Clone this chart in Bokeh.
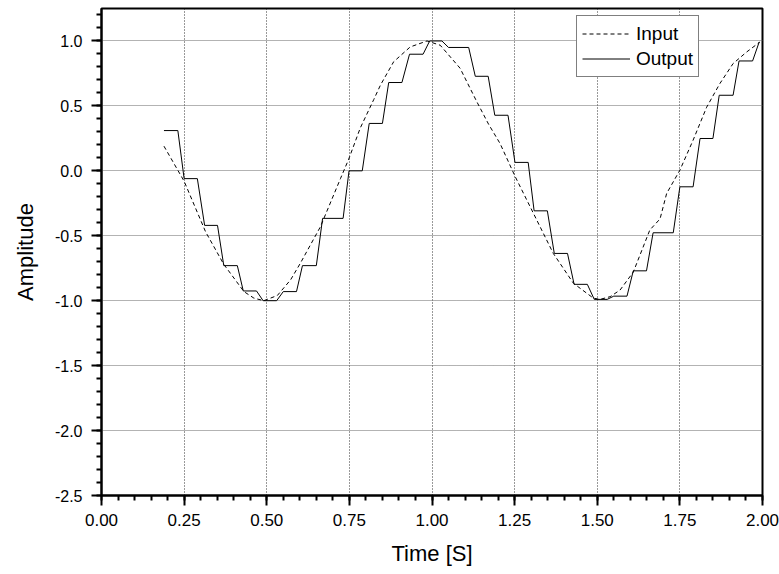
from bokeh.plotting import figure
from bokeh.models import (Range1d, FixedTicker, NumeralTickFormatter, Legend,
                          LegendItem)
from bokeh.embed import file_html
from bokeh.resources import INLINE

# ---- Input signal (dashed) vertices ----
input_t = [0.189, 0.25, 0.315, 0.37, 0.431, 0.461, 0.491, 0.532, 0.572, 0.602,
           0.6625, 0.723, 0.748, 0.783, 0.824, 0.844, 0.884, 0.934, 0.985, 1.025,
           1.085, 1.136, 1.171, 1.206, 1.252, 1.307, 1.367, 1.428, 1.488, 1.508,
           1.539, 1.569, 1.609, 1.659, 1.69, 1.71, 1.75, 1.79, 1.831, 1.871,
           1.911, 1.952, 1.992]
input_y = [0.19, -0.08, -0.47, -0.72, -0.93, -0.98, -1.0, -0.96, -0.84, -0.71,
           -0.43, -0.06, 0.09, 0.33, 0.55, 0.66, 0.84, 0.954, 1.0, 0.967,
           0.79, 0.53, 0.36, 0.21, -0.046, -0.328, -0.636, -0.866, -0.98, -0.99,
           -0.969, -0.918, -0.78, -0.456, -0.37, -0.174, 0.005, 0.236, 0.49, 0.672,
           0.826, 0.915, 0.992]

# ---- Output signal (sample & hold): hold start, hold end, held value ----
out_start = [0.189, 0.250, 0.312, 0.370, 0.429, 0.489, 0.550, 0.608, 0.669, 0.749,
             0.810, 0.869, 0.932, 0.993, 1.050, 1.131, 1.190, 1.251, 1.309, 1.370,
             1.430, 1.491, 1.550, 1.609, 1.669, 1.750, 1.811, 1.869, 1.929, 1.990]
out_end = [0.231, 0.290, 0.351, 0.411, 0.469, 0.530, 0.590, 0.650, 0.731, 0.789,
           0.850, 0.909, 0.973, 1.030, 1.111, 1.170, 1.230, 1.291, 1.349, 1.410,
           1.470, 1.530, 1.590, 1.649, 1.730, 1.790, 1.850, 1.911, 1.970, 1.990]
out_val = [0.31, -0.06, -0.42, -0.73, -0.925, -1.0, -0.93, -0.73, -0.366, 0.0,
           0.365, 0.68, 0.898, 1.0, 0.95, 0.728, 0.428, 0.065, -0.308, -0.636,
           -0.874, -0.99, -0.965, -0.77, -0.477, -0.123, 0.249, 0.582, 0.846, 0.992]

x_ticks = [0.0, 0.25, 0.5, 0.75, 1.0, 1.25, 1.5, 1.75, 2.0]
y_ticks = [-2.5, -2.0, -1.5, -1.0, -0.5, 0.0, 0.5, 1.0]

# build step path
ox, oy = [], []
for s, e, v in zip(out_start, out_end, out_val):
    ox.append(s); oy.append(v)
    if e != s:
        ox.append(e); oy.append(v)

FONT = "Liberation Sans"

p = figure(width=779, height=574, x_range=Range1d(0, 2), y_range=Range1d(-2.5, 1.25),
           output_backend="svg", toolbar_location=None,
           min_border_left=101, min_border_right=17, min_border_top=8,
           min_border_bottom=79)
p.background_fill_color = "white"
p.border_fill_color = "white"
p.outline_line_color = "black"
p.outline_line_width = 2

r_in = p.line(input_t, input_y, line_color="black", line_width=1, line_dash="4 3")
r_out = p.line(ox, oy, line_color="black", line_width=1)

xminor = [round(i * 0.05, 2) for i in range(0, 41)]
yminor = [round(-2.5 + i * 0.1, 2) for i in range(0, 38)]

xa = p.xaxis[0]
ya = p.yaxis[0]
xa.ticker = FixedTicker(ticks=x_ticks, minor_ticks=xminor)
ya.ticker = FixedTicker(ticks=y_ticks, minor_ticks=yminor)
xa.formatter = NumeralTickFormatter(format="0.00")
ya.formatter = NumeralTickFormatter(format="0.0")

for ax in (xa, ya):
    ax.axis_line_width = 2
    ax.axis_line_color = "black"
    ax.major_tick_out = 10
    ax.major_tick_in = 0
    ax.minor_tick_out = 5
    ax.minor_tick_in = 0
    ax.major_tick_line_width = 2
    ax.minor_tick_line_width = 2
    ax.major_tick_line_color = "black"
    ax.minor_tick_line_color = "black"
    ax.major_label_text_font = FONT
    ax.major_label_text_color = "black"
    ax.axis_label_text_font = FONT
    ax.axis_label_text_font_style = "normal"
    ax.axis_label_text_color = "black"

xa.major_label_text_font_size = "17px"
ya.major_label_text_font_size = "16px"
xa.major_label_standoff = 8
ya.major_label_standoff = 9
xa.axis_label = "Time [S]"
ya.axis_label = "Amplitude"
xa.axis_label_text_font_size = "22px"
ya.axis_label_text_font_size = "22px"
xa.axis_label_standoff = 12
ya.axis_label_standoff = 14

p.xgrid.grid_line_color = "#000000"
p.xgrid.grid_line_dash = "1 2"
p.xgrid.grid_line_width = 1
p.xgrid.grid_line_alpha = 0.8
p.ygrid.grid_line_color = "#666666"
p.ygrid.grid_line_dash = "1 1"
p.ygrid.grid_line_width = 1

legend = Legend(items=[LegendItem(label="Input", renderers=[r_in]),
                       LegendItem(label="Output", renderers=[r_out])],
                location=(475, 418))
legend.label_text_font = FONT
legend.label_text_font_size = "19px"
legend.label_text_color = "black"
legend.border_line_color = "black"
legend.border_line_width = 1
legend.background_fill_color = "white"
legend.background_fill_alpha = 1
legend.glyph_width = 48
legend.glyph_height = 25
legend.label_height = 25
legend.label_standoff = 6
legend.padding = 5
legend.spacing = 0
legend.margin = 0
p.add_layout(legend)

open("out.html", "w").write(file_html(p, INLINE))
